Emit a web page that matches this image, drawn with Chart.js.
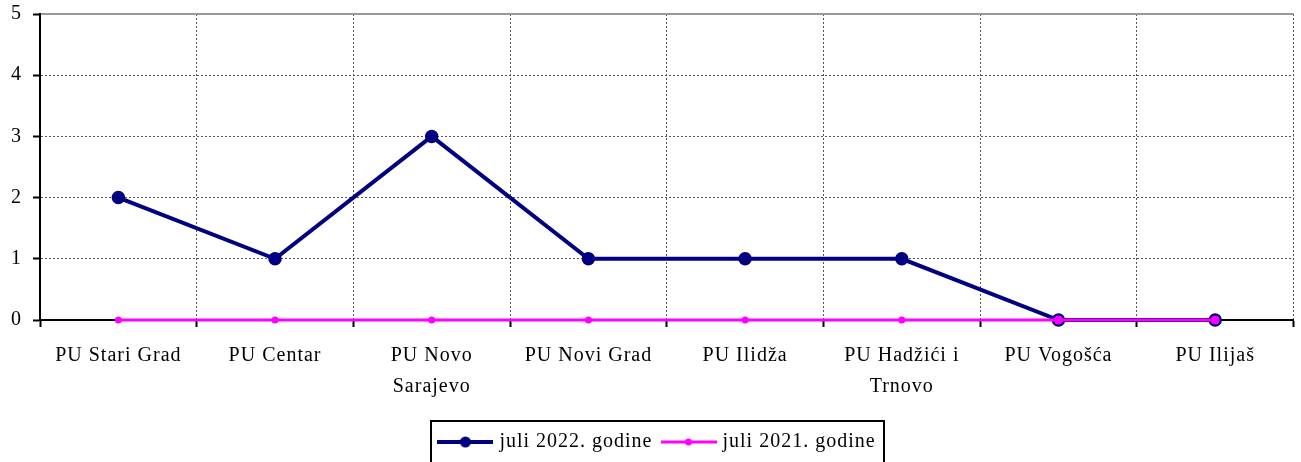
<!DOCTYPE html>
<html>
<head>
<meta charset="utf-8">
<script src="https://cdn.jsdelivr.net/npm/chart.js@4/dist/chart.umd.min.js"></script>
<style>
    html, body { margin: 0; padding: 0; background: #fff; overflow: hidden; }
    #wrap { width: 1301px; height: 462px; overflow: hidden; }
</style>
</head>
<body>
<div id="wrap"><canvas id="chart" width="1301" height="462"></canvas></div>
<script>
// ========================================
// Data
// ========================================

// police stations (x axis categories)
const categories = [
    ['PU Stari Grad'],
    ['PU Centar'],
    ['PU Novo', 'Sarajevo'],
    ['PU Novi Grad'],
    ['PU Ilidža'],
    ['PU Hadžići i', 'Trnovo'],
    ['PU Vogošća'],
    ['PU Ilijaš']
];

// series
const seriesNames = ['juli 2022. godine', 'juli 2021. godine'];
const values2022 = [2, 1, 3, 1, 1, 1, 0, 0];
const values2021 = [0, 0, 0, 0, 0, 0, 0, 0];

// y axis ticks
const yTicks = [0, 1, 2, 3, 4, 5];

const NAVY = '#000080';
const PINK = '#FF00FF';
const FONT = 'Liberation Serif';

// ========================================
// Legend symbols (line with marker)
// ========================================

function makeSymbol(color, lineW, radius) {
    const c = document.createElement('canvas');
    c.width = 56;
    c.height = 14;
    const g = c.getContext('2d');
    g.strokeStyle = color;
    g.lineWidth = lineW;
    g.beginPath();
    g.moveTo(0, 7);
    g.lineTo(56, 7);
    g.stroke();
    g.fillStyle = color;
    g.beginPath();
    g.arc(28, 7, radius, 0, Math.PI * 2);
    g.fill();
    return c;
}
const symbols = [makeSymbol(NAVY, 4, 5.5), makeSymbol(PINK, 3, 3.5)];

// ========================================
// Plugin: letter spacing + legend frame
// ========================================

const excelLook = {
    id: 'excelLook',
    beforeLayout(chart) { chart.ctx.letterSpacing = '1px'; },
    afterLayout(chart) {
        // shift the legend a little to the right, as in the original
        const lg = chart.legend;
        lg.left += 8;
        lg.right += 8;
    },
    beforeDraw(chart) { chart.ctx.letterSpacing = '1px'; },
    afterDraw(chart) {
        const lg = chart.legend;
        const boxes = lg.legendHitBoxes;
        if (!boxes || !boxes.length) return;
        const first = boxes[0];
        const last = boxes[boxes.length - 1];
        const ctx = chart.ctx;
        ctx.save();
        ctx.strokeStyle = '#000';
        ctx.lineWidth = 2;
        const left = Math.round(first.left) - 10;
        const right = Math.round(last.left + last.width) + 8;
        const top = Math.round(lg.top) + 1;
        ctx.strokeRect(left, top, right - left, 80);
        ctx.restore();
    }
};

// ========================================
// Chart
// ========================================

const ctx = document.getElementById('chart').getContext('2d');
const chart = new Chart(ctx, {
    type: 'line',
    data: {
        labels: categories,
        datasets: [
            {
                label: seriesNames[0],
                data: values2022,
                borderColor: NAVY,
                backgroundColor: NAVY,
                borderWidth: 4,
                pointRadius: 6,
                pointBorderWidth: 1.5,
                pointBorderColor: NAVY,
                pointBackgroundColor: NAVY,
                tension: 0,
                clip: false,
                order: 1
            },
            {
                label: seriesNames[1],
                data: values2021,
                borderColor: PINK,
                backgroundColor: PINK,
                borderWidth: 3,
                pointRadius: c => (values2022[c.dataIndex] === values2021[c.dataIndex] ? 4.5 : 3.5),
                pointBorderWidth: 0,
                pointBackgroundColor: PINK,
                tension: 0,
                clip: false,
                order: 0
            }
        ]
    },
    options: {
        responsive: false,
        animation: false,
        layout: { padding: { top: 14, left: 0, right: 0, bottom: 0 } },
        plugins: {
            tooltip: { enabled: false },
            legend: {
                position: 'bottom',
                labels: {
                    color: '#000',
                    font: { family: FONT, size: 20 },
                    usePointStyle: true,
                    pointStyleWidth: 48,
                    padding: 12,
                    sort: (a, b) => a.datasetIndex - b.datasetIndex,
                    generateLabels(chart) {
                        const items = Chart.defaults.plugins.legend.labels.generateLabels(chart);
                        items.forEach(item => { item.pointStyle = symbols[item.datasetIndex]; });
                        return items;
                    }
                }
            }
        },
        scales: {
            x: {
                offset: true,
                grid: {
                    offset: true,
                    color: '#555',
                    lineWidth: 1,
                    tickLength: 7,
                    tickColor: '#000',
                    tickWidth: 2
                },
                border: { color: '#000', width: 2, dash: [2, 2] },
                ticks: {
                    color: '#000',
                    padding: 13,
                    maxRotation: 0,
                    autoSkip: false,
                    font: { family: FONT, size: 20, lineHeight: 1.55 }
                },
                afterFit(scale) { scale.height = 100; }
            },
            xTop: {
                position: 'top',
                type: 'category',
                labels: categories,
                grid: { display: false },
                ticks: { display: false },
                border: { color: '#999', width: 2 },
                afterFit(scale) { scale.height = 0; }
            },
            y: {
                min: 0,
                max: 5,
                afterBuildTicks(scale) { scale.ticks = yTicks.map(v => ({ value: v })); },
                grid: {
                    color: '#555',
                    lineWidth: 1,
                    tickLength: 7,
                    tickColor: '#000',
                    tickWidth: 2
                },
                border: { color: '#000', width: 2, dash: [2, 2] },
                ticks: {
                    color: '#000',
                    padding: 11,
                    font: { family: FONT, size: 20 }
                },
                afterFit(scale) {
                    scale.width = 40;
                    scale.paddingTop = 0;
                    scale.paddingBottom = 0;
                }
            }
        }
    },
    plugins: [excelLook]
});
</script>
</body>
</html>
